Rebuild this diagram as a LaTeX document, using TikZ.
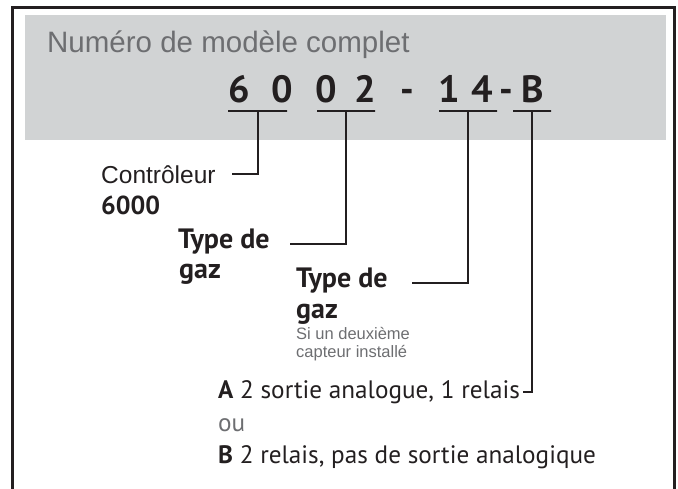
\documentclass[tikz,border=0pt]{standalone}
\usepackage{fontspec}
\newfontfamily\arialf{Liberation Sans}
\newfontfamily\myriadf{PT Sans}
\usetikzlibrary{positioning}
\definecolor{boxgray}{HTML}{D1D3D4}
\definecolor{inkdark}{HTML}{231F20}
\definecolor{titlegray}{HTML}{6D6E71}

\begin{document}
\begin{tikzpicture}[x=1pt,y=-1pt,
    digit/.style={anchor=base, inner sep=0pt, text=inkdark,
                  font=\myriadf\bfseries\fontsize{38}{38}\selectfont},
    uline/.style={draw=inkdark, line width=2pt, inner sep=0pt, outer sep=0pt,
                  minimum height=0pt},
    plain/.style={anchor=base west, inner sep=0pt, text=inkdark,
                  font=\arialf\fontsize{24.5}{24.5}\selectfont},
    bold/.style={anchor=base west, inner sep=0pt, text=inkdark,
                 font=\myriadf\bfseries\fontsize{28}{28}\selectfont},
    note/.style={anchor=base west, inner sep=0pt, text=titlegray,
                 font=\arialf\fontsize{16.5}{16.5}\selectfont},
    option/.style={anchor=base west, inner sep=0pt, text=inkdark,
                   font=\myriadf\fontsize{25.2}{25.2}\selectfont},
    link/.style={draw=inkdark, line width=2pt}
    ]
    \useasboundingbox (0,0) rectangle (678,489);

    %frame and grey band
    \fill[boxgray] (25,15) rectangle (666,140);
    \draw[inkdark, line width=3pt] (12,495) -- (12,7.5) -- (674.5,7.5) -- (674.5,495);

    \node[anchor=base west, inner sep=0pt, text=titlegray,
          font=\arialf\fontsize{29.5}{29.5}\selectfont] (title) at (47,53) {Numéro de modèle complet};

    %model number
    \node[digit] (d1) at (239,103) {6};
    \node[digit] (d2) at (282,103) {0};
    \node[digit] (d3) at (326,103) {0};
    \node[digit] (d4) at (365,103) {2};
    \node[digit] (h1) at (407,103) {-};
    \node[digit] (d5) at (449,103) {1};
    \node[digit] (d6) at (482,103) {4};
    \node[digit] (h2) at (506,103) {-};
    \node[digit] (d7) at (533,103) {B};

    %underlines
    \node[uline, minimum width=59pt] (u1) at (257.5,111) {};
    \node[uline, minimum width=58pt] (u2) at (346,111) {};
    \node[uline, minimum width=58pt] (u3) at (468,111) {};
    \node[uline, minimum width=38pt] (u4) at (532,111) {};

    %labels
    \node[plain] (ctl) at (101,184) {Contrôleur};
    \node[bold, font=\myriadf\bfseries\fontsize{26}{26}\selectfont] (ctlnum) at (101,215) {6000};
    \node[bold]  (gasa) at (178,249) {Type de};
    \node[bold]  (gasb) at (179,279) {gaz};
    \node[bold]  (gasc) at (296,288) {Type de};
    \node[bold]  (gasd) at (296,319) {gaz};
    \node[note]  (snda) at (296,340) {Si un deuxième};
    \node[note]  (sndb) at (296,358) {capteur installé};
    \node[option] (opta) at (218,398) {\textbf{A} 2 sortie analogue, 1 relais};
    \node[option, text=titlegray] (optor) at (218,431) {ou};
    \node[option] (optb) at (218,463) {\textbf{B} 2 relais, pas de sortie analogique};

    %leader lines
    \coordinate (c1) at (232,174);
    \coordinate (c2) at (290,244);
    \coordinate (c3) at (412,283);
    \draw[link] (c1) -| (u1.center);
    \draw[link] (c2) -| (u2.center);
    \draw[link] (c3) -| (u3.center);
    \draw[link] ([xshift=3pt]opta.east) -| (u4.center);
\end{tikzpicture}
\end{document}
